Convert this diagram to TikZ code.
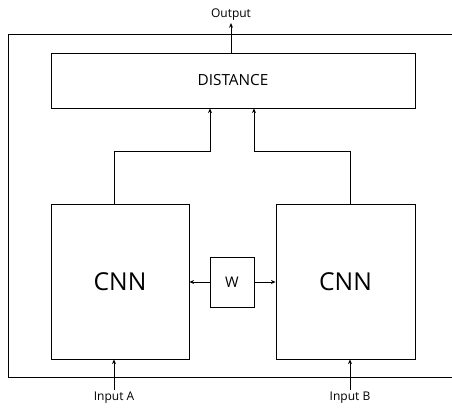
\documentclass[tikz,border=0pt]{standalone}
\usepackage{fontspec}
\setmainfont{Open Sans}
\usepackage{tikz}
\usetikzlibrary{arrows.meta,positioning,calc}
\tikzset{
  blk/.style={draw,line width=0.6pt,inner sep=0pt,align=center},
  arr/.style={-{Stealth[length=3.5pt,width=3pt]},line width=0.6pt},
  lbl/.style={font=\small,inner sep=1.5pt},
}
\begin{document}
\begin{tikzpicture}[x=0.75pt,y=-0.75pt]
    \useasboundingbox (0,0) rectangle (452,410);
    % outer frame (open to the right)
    \draw[line width=0.6pt] (452,34) -| (8,377) -- (452,377);
    % blocks
    \node[blk,minimum width=364*0.75pt,minimum height=55*0.75pt,font=\fontsize{11.5}{13}\selectfont] (dist) at (233,80.5) {DISTANCE};
    \node[blk,minimum width=138*0.75pt,minimum height=155*0.75pt,font=\fontsize{18.5}{22}\selectfont] (cnnA) at (120,281.5) {CNN};
    \node[blk,minimum width=139*0.75pt,minimum height=155*0.75pt,font=\fontsize{18.5}{22}\selectfont] (cnnB) at (345.5,281.5) {CNN};
    \node[blk,minimum width=44*0.75pt,minimum height=50*0.75pt,font=\fontsize{11}{13}\selectfont] (w) at (232,282) {W};
    % labels
    \node[lbl] (out) at (231,15) {Output};
    \node[lbl] (inA) at (114,398) {Input A};
    \node[lbl] (inB) at (350,398) {Input B};
    % connectors
    \draw[arr] (out.south|-dist.north) -- (out.south);
    \draw[arr] ([xshift=-6*0.75pt]cnnA.north) -- ++(0,-52) -| ([xshift=-23*0.75pt]dist.south);
    \draw[arr] ([xshift=4.5*0.75pt]cnnB.north) -- ++(0,-52) -| ([xshift=21*0.75pt]dist.south);
    \draw[arr] (w.west) -- (cnnA.east|-w.west);
    \draw[arr] (w.east) -- (cnnB.west|-w.east);
    \draw[arr] (inA.north) -- (inA.north|-cnnA.south);
    \draw[arr] (inB.north) -- (inB.north|-cnnB.south);
\end{tikzpicture}
\end{document}
